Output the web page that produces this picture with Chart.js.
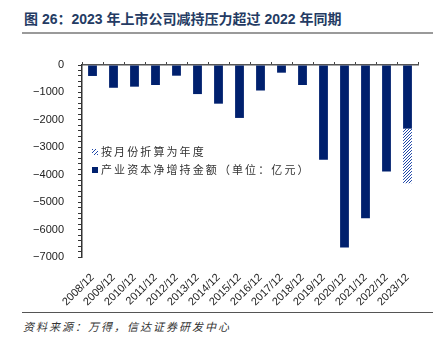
<!DOCTYPE html>
<html>
<head>
<meta charset="utf-8">
<script src="https://cdn.jsdelivr.net/npm/chart.js@4.4.0/dist/chart.umd.min.js"></script>
<style>
  body { margin: 0; background: #fff; }
  #wrap { position: relative; width: 440px; height: 342px; overflow: hidden; font-family: "Liberation Sans", "Noto Sans CJK SC", sans-serif; }
  #title { position: absolute; left: 24px; top: 8px; font-size: 14px; font-weight: bold; color: #243b63; white-space: nowrap; font-family: "Liberation Sans", "Noto Sans CJK SC", sans-serif; }
  #titleRule { position: absolute; left: 22px; top: 32px; width: 411px; height: 2px; background: #9a9a9a; }
  #chartBox { position: absolute; left: 0; top: 40px; width: 440px; height: 272px; }
  #legend { position: absolute; left: 92px; top: 143px; font-size: 11px; color: #333; letter-spacing: 2.1px; font-family: "Noto Sans CJK SC", sans-serif; }
  #legend div { height: 18px; line-height: 16px; white-space: nowrap; }
  .sw { display: inline-block; width: 6px; height: 6px; margin-right: 3px; vertical-align: 1px; }
  .hatch { background: repeating-linear-gradient(135deg, #1f47a8 0 1px, #fff 1px 2.5px); }
  .solid { background: #00206e; }
  #bottomRule { position: absolute; left: 22px; top: 312px; width: 411px; height: 1px; background: #555; }
  #source { position: absolute; left: 23px; top: 318px; font-size: 11px; font-style: italic; color: #333; letter-spacing: 2px; font-family: "Noto Sans CJK SC", sans-serif; white-space: nowrap; }
</style>
</head>
<body>
<div id="wrap">
  <div id="title">图 26：2023 年上市公司减持压力超过 2022 年同期</div>
  <div id="titleRule"></div>
  <div id="chartBox"><canvas id="holdChart"></canvas></div>
  <div id="legend">
    <div><span class="sw hatch"></span>按月份折算为年度</div>
    <div><span class="sw solid"></span>产业资本净增持金额（单位：亿元）</div>
  </div>
  <div id="bottomRule"></div>
  <div id="source">资料来源：万得，信达证券研发中心</div>
</div>
<script>
const years = ['2008/12', '2009/12', '2010/12', '2011/12', '2012/12', '2013/12', '2014/12', '2015/12',
  '2016/12', '2017/12', '2018/12', '2019/12', '2020/12', '2021/12', '2022/12', '2023/12'];
// 产业资本净增持金额（亿元）
const netHolding = [-400, -830, -790, -730, -390, -1060, -1410, -1930,
  -930, -280, -730, -3450, -6650, -5590, -3880, -2320];
// 按月份折算为年度（仅 2023 年）
const annualized = [null, null, null, null, null, null, null, null,
  null, null, null, null, null, null, null, -4310];
const yTicks = [0, -1000, -2000, -3000, -4000, -5000, -6000, -7000];

const navy = '#00206e';

// diagonal hatch for the annualized part
function hatchPattern() {
  const c = document.createElement('canvas');
  c.width = 3; c.height = 3;
  const g = c.getContext('2d');
  g.fillStyle = '#fff';
  g.fillRect(0, 0, 3, 3);
  g.fillStyle = '#1f47a8';
  // one-pixel staircase gives a crisp "/" hatch
  g.fillRect(2, 0, 1, 1);
  g.fillRect(1, 1, 1, 1);
  g.fillRect(0, 2, 1, 1);
  return g.createPattern(c, 'repeat');
}

const extra = annualized.map((v, i) => v === null ? null : v - netHolding[i]);

const ctx = document.getElementById('holdChart').getContext('2d');
new Chart(ctx, {
  type: 'bar',
  data: {
    labels: years,
    datasets: [{
      label: '产业资本净增持金额（单位：亿元）',
      data: netHolding,
      backgroundColor: navy,
      borderWidth: 0,
      barPercentage: 0.42,
      categoryPercentage: 1,
      stack: 's'
    }, {
      label: '按月份折算为年度',
      data: extra,
      backgroundColor: hatchPattern(),
      borderWidth: 0,
      barPercentage: 0.42,
      categoryPercentage: 1,
      stack: 's'
    }]
  },
  options: {
    responsive: true,
    maintainAspectRatio: false,
    animation: false,
    layout: { padding: { left: 0, right: 22, top: 22, bottom: 0 } },
    plugins: {
      legend: { display: false },
      tooltip: { enabled: false }
    },
    scales: {
      x: {
        stacked: true,
        position: 'bottom',
        grid: { display: false },
        border: { display: false },
        ticks: {
          autoSkip: false,
          minRotation: 45,
          maxRotation: 45,
          padding: 6,
          color: '#222',
          font: { family: 'Liberation Sans', size: 11 }
        },
        afterFit: scale => { scale.height = 55; }
      },
      xTop: {
        type: 'category',
        labels: years,
        position: 'top',
        offset: true,
        grid: { offset: true, drawOnChartArea: false, tickLength: 3, color: '#444' },
        border: { display: true, color: '#555', width: 1.5 },
        ticks: { display: false }
      },
      y: {
        stacked: true,
        min: -7000,
        max: 0,
        grid: { drawOnChartArea: false, tickLength: 4, color: '#333' },
        border: { display: true, color: '#333', width: 1.5 },
        ticks: {
          stepSize: 200,
          autoSkip: false,
          padding: 14,
          color: '#222',
          font: { family: 'Liberation Sans', size: 11 },
          callback: v => yTicks.includes(v) ? (v < 0 ? '\u2212' + Math.abs(v) : String(v)) : ''
        },
        afterFit: scale => { scale.width = 82; }
      }
    }
  }
});
</script>
</body>
</html>
